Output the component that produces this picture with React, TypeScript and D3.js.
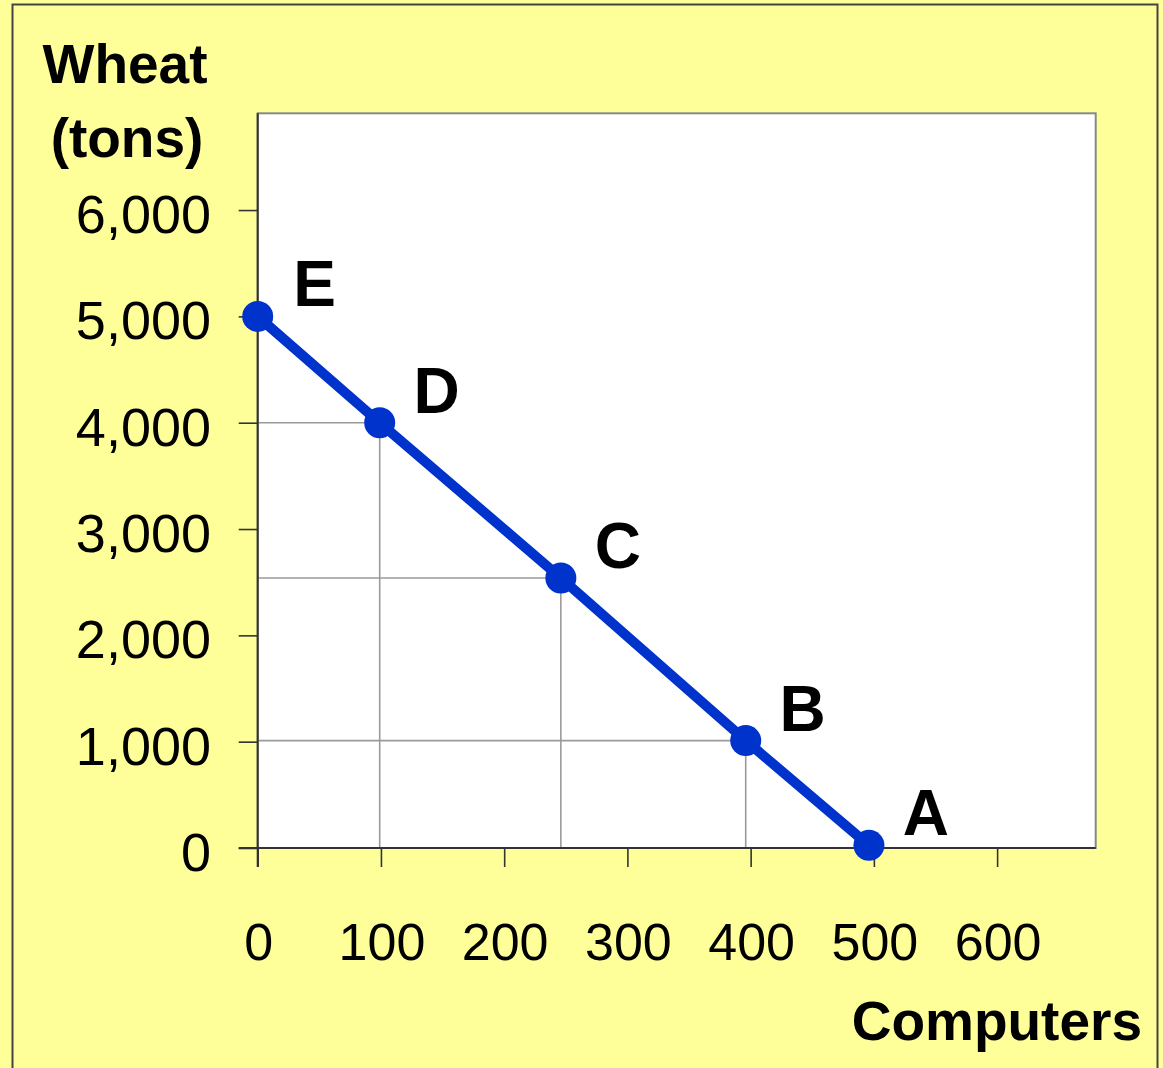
import { axisBottom, axisLeft, line, scaleLinear, select } from 'd3'
import { useEffect, useRef } from 'react'

// production possibilities (computers, wheat tons)
const labels = ['E', 'D', 'C', 'B', 'A']
const computers = [0, 99, 246, 396, 496]
const wheat = [5000, 4000, 2540, 1010, 25]
const guidePoints = ['D', 'C', 'B']
const xTicks = [0, 100, 200, 300, 400, 500, 600]
const yTicks = [0, 1000, 2000, 3000, 4000, 5000, 6000]

export default function App() {
  const svgRef = useRef<SVGSVGElement>(null)

  useEffect(() => {
    const svg = select(svgRef.current)
    svg.selectAll('*').remove()

    const font = '"Liberation Sans", Arial, sans-serif'
    const left = 257.7
    const right = 1095.7
    const top = 113.3
    const bottom = 848

    // yellow background with frame
    svg.append('rect').attr('width', 1163).attr('height', 1068).attr('fill', '#ffff99')
    svg
      .append('rect')
      .attr('x', 12.5)
      .attr('y', 4.5)
      .attr('width', 1145)
      .attr('height', 1080)
      .attr('fill', 'none')
      .attr('stroke', '#444')
      .attr('stroke-width', 2)

    const x = scaleLinear().domain([0, 680]).range([left, right])
    const y = scaleLinear().domain([0, 6910]).range([bottom, top])

    // plot area
    svg
      .append('rect')
      .attr('x', left)
      .attr('y', top)
      .attr('width', right - left)
      .attr('height', bottom - top)
      .attr('fill', '#fff')
      .attr('stroke', '#888')
      .attr('stroke-width', 2)

    const data = labels.map((l, i) => ({ label: l, c: computers[i], w: wheat[i] }))

    // guide lines
    const guides = data.filter((d) => guidePoints.includes(d.label))
    const g = svg.append('g').attr('stroke', '#9a9a9a').attr('stroke-width', 1.6)
    guides.forEach((d) => {
      g.append('line').attr('x1', x(0)).attr('x2', x(d.c)).attr('y1', y(d.w)).attr('y2', y(d.w))
      g.append('line').attr('x1', x(d.c)).attr('x2', x(d.c)).attr('y1', y(d.w)).attr('y2', y(0))
    })

    // axes
    const xAxis = svg
      .append('g')
      .attr('transform', 'translate(0,' + bottom + ')')
      .call(axisBottom(x).tickValues(xTicks).tickSize(19).tickSizeOuter(0).tickFormat(() => ''))
    xAxis.select('.domain').remove()
    xAxis.selectAll('line').attr('stroke', '#333').attr('stroke-width', 1.6)

    const yAxis = svg
      .append('g')
      .attr('transform', 'translate(' + left + ',0)')
      .call(axisLeft(y).tickValues(yTicks).tickSize(19).tickSizeOuter(0).tickFormat(() => ''))
    yAxis.select('.domain').remove()
    yAxis.selectAll('line').attr('stroke', '#333').attr('stroke-width', 1.6)

    svg
      .append('line')
      .attr('x1', left - 19)
      .attr('x2', right)
      .attr('y1', bottom)
      .attr('y2', bottom)
      .attr('stroke', '#333')
      .attr('stroke-width', 2)
    svg
      .append('line')
      .attr('x1', left)
      .attr('x2', left)
      .attr('y1', top)
      .attr('y2', bottom + 19)
      .attr('stroke', '#333')
      .attr('stroke-width', 2)

    // tick labels
    svg
      .selectAll('.xlab')
      .data(xTicks)
      .enter()
      .append('text')
      .attr('x', (d) => x(d) + 1)
      .attr('y', 960)
      .attr('text-anchor', 'middle')
      .attr('font-family', font)
      .attr('font-size', 52)
      .text((d) => String(d))

    svg
      .selectAll('.ylab')
      .data(yTicks)
      .enter()
      .append('text')
      .attr('x', 211)
      .attr('y', (d) => y(d) + 23)
      .attr('text-anchor', 'end')
      .attr('font-family', font)
      .attr('font-size', 54)
      .text((d) => (d === 0 ? '0' : d.toLocaleString('en-US')))

    // axis titles
    const title = svg.append('g').attr('font-family', font).attr('font-weight', 'bold').attr('font-size', 55)
    title.append('text').attr('x', 125).attr('y', 83).attr('text-anchor', 'middle').text('Wheat')
    title.append('text').attr('x', 127).attr('y', 157).attr('text-anchor', 'middle').text('(tons)')
    title.append('text').attr('x', 1142).attr('y', 1040).attr('text-anchor', 'end').text('Computers')

    // frontier
    const path = line<{ c: number; w: number }>()
      .x((d) => x(d.c))
      .y((d) => y(d.w))
    svg
      .append('path')
      .datum(data)
      .attr('d', path)
      .attr('fill', 'none')
      .attr('stroke', '#0033cc')
      .attr('stroke-width', 10)

    svg
      .selectAll('.pt')
      .data(data)
      .enter()
      .append('circle')
      .attr('cx', (d) => x(d.c))
      .attr('cy', (d) => y(d.w))
      .attr('r', 15.5)
      .attr('fill', '#0033cc')

    svg
      .selectAll('.plab')
      .data(data)
      .enter()
      .append('text')
      .attr('x', (d) => x(d.c) + 57)
      .attr('y', (d) => y(d.w) - 33 + 23)
      .attr('text-anchor', 'middle')
      .attr('font-family', font)
      .attr('font-weight', 'bold')
      .attr('font-size', 64)
      .text((d) => d.label)
  }, [])

  return (
    <svg
      ref={svgRef}
      width={1163}
      height={1068}
      style={{ position: 'absolute', left: 0, top: 0 }}
    />
  )
}
